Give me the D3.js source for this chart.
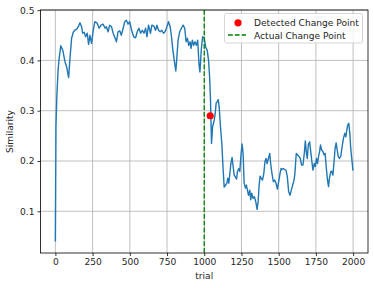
<!DOCTYPE html>
<html><head><meta charset="utf-8">
<script src="https://cdn.jsdelivr.net/npm/d3@7"></script>
<style>body{margin:0;background:#fff}svg{display:block}text{font-family:"DejaVu Sans",sans-serif;fill:#262626}</style>
</head><body><svg id="c" width="374" height="288"></svg>
<script>
const trials = [0,4,10,18,24,36,49,65,76,89,98,109,120,131,143,154,165,176,183,194,203,214,223,232,243,254,265,281,294,307,321,334,343,354,365,377,388,399,410,421,432,443,455,466,477,488,499,512,526,539,550,561,573,584,595,606,615,626,639,648,662,673,682,693,704,715,726,737,749,760,771,780,789,800,809,815,824,835,847,858,869,878,887,896,905,911,920,929,938,947,956,965,971,980,989,1000,1009,1020,1029,1036,1042,1049,1056,1065,1074,1080,1087,1094,1100,1109,1118,1127,1134,1143,1152,1158,1165,1172,1179,1187,1194,1201,1210,1217,1223,1232,1239,1246,1254,1261,1268,1277,1283,1290,1297,1306,1312,1319,1328,1337,1346,1355,1362,1368,1375,1382,1391,1400,1408,1415,1422,1431,1440,1446,1455,1464,1473,1482,1491,1500,1509,1516,1522,1531,1540,1549,1558,1567,1576,1585,1594,1603,1609,1618,1627,1636,1645,1654,1663,1672,1679,1685,1692,1699,1708,1714,1723,1730,1739,1746,1754,1761,1768,1775,1781,1788,1797,1806,1812,1819,1828,1835,1841,1850,1857,1864,1873,1879,1886,1893,1900,1908,1917,1926,1935,1944,1951,1958,1964,1971,1978,1984,1991,1999];
const similarity = [0.040,0.27,0.33,0.38,0.400,0.429,0.421,0.397,0.387,0.366,0.404,0.444,0.456,0.460,0.462,0.467,0.475,0.467,0.454,0.456,0.447,0.454,0.432,0.450,0.434,0.459,0.477,0.474,0.464,0.470,0.472,0.464,0.467,0.457,0.470,0.467,0.454,0.446,0.437,0.457,0.459,0.450,0.464,0.477,0.480,0.472,0.477,0.460,0.447,0.445,0.457,0.464,0.454,0.460,0.454,0.464,0.447,0.470,0.454,0.470,0.468,0.460,0.470,0.460,0.457,0.460,0.454,0.457,0.467,0.477,0.467,0.447,0.421,0.397,0.379,0.401,0.440,0.457,0.464,0.470,0.464,0.437,0.444,0.430,0.437,0.424,0.440,0.430,0.437,0.430,0.440,0.391,0.377,0.421,0.447,0.445,0.427,0.420,0.400,0.368,0.321,0.235,0.268,0.278,0.295,0.315,0.318,0.322,0.308,0.268,0.235,0.182,0.148,0.152,0.156,0.166,0.156,0.175,0.195,0.207,0.189,0.172,0.168,0.164,0.179,0.185,0.179,0.209,0.234,0.215,0.156,0.146,0.152,0.142,0.132,0.142,0.123,0.136,0.126,0.129,0.119,0.104,0.119,0.149,0.170,0.166,0.162,0.175,0.199,0.205,0.195,0.205,0.215,0.195,0.175,0.159,0.162,0.156,0.144,0.159,0.175,0.185,0.183,0.185,0.183,0.182,0.169,0.139,0.132,0.142,0.152,0.162,0.175,0.215,0.212,0.209,0.205,0.192,0.192,0.215,0.240,0.219,0.205,0.232,0.238,0.222,0.199,0.182,0.195,0.189,0.205,0.195,0.209,0.219,0.232,0.222,0.219,0.212,0.215,0.189,0.162,0.149,0.166,0.179,0.179,0.172,0.202,0.225,0.236,0.222,0.209,0.205,0.209,0.228,0.245,0.255,0.248,0.262,0.272,0.275,0.255,0.225,0.205,0.181];
const xTicks = [0,250,500,750,1000,1250,1500,1750,2000];
const yTicks = [0.1,0.2,0.3,0.4,0.5];
const actualChange = [1000];
const detectedTrial = [1040];
const detectedValue = [0.290];
const legendLabels = ["Detected Change Point","Actual Change Point"];

const FS = "9.1px";
const svg = d3.select("#c");
const L=40.5, R=368, T=10, B=253;
const x = d3.scaleLinear().domain([-100,2100]).range([L,R]);
const y = d3.scaleLinear().domain([0.0171,0.5002]).range([B,T]);

// grid
const g = svg.append("g");
g.selectAll(".gx").data(xTicks).enter().append("line")
 .attr("x1",d=>x(d)).attr("x2",d=>x(d)).attr("y1",T).attr("y2",B)
 .attr("stroke","#b0b0b0").attr("stroke-width",0.8);
g.selectAll(".gy").data(yTicks).enter().append("line")
 .attr("y1",d=>y(d)).attr("y2",d=>y(d)).attr("x1",L).attr("x2",R)
 .attr("stroke","#b0b0b0").attr("stroke-width",0.8);

// line
const pts = trials.map((t,i)=>[t,similarity[i]]);
svg.append("path").datum(pts)
 .attr("d",d3.line().x(d=>x(d[0])).y(d=>y(d[1])))
 .attr("fill","none").attr("stroke","#1f77b4").attr("stroke-width",1.4).attr("stroke-linejoin","round");

// actual change
svg.selectAll(".ac").data(actualChange).enter().append("line")
 .attr("x1",d=>x(d)).attr("x2",d=>x(d)).attr("y1",T).attr("y2",B)
 .attr("stroke","#008000").attr("stroke-width",1.3).attr("stroke-dasharray","4.8,2");

// detected
svg.selectAll(".dc").data(detectedTrial).enter().append("circle")
 .attr("cx",d=>x(d)).attr("cy",(d,i)=>y(detectedValue[i])).attr("r",3.6).attr("fill","#ff0000");

// axes
const xa = svg.append("g").attr("transform",`translate(0,${B})`)
 .call(d3.axisBottom(x).tickValues(xTicks).tickSize(3).tickPadding(3).tickFormat(d3.format("d")));
const ya = svg.append("g").attr("transform",`translate(${L},0)`)
 .call(d3.axisLeft(y).tickValues(yTicks).tickSize(3).tickPadding(3).tickFormat(d3.format(".1f")));
[xa,ya].forEach(a=>{a.select(".domain").remove();a.selectAll("line").attr("stroke","#000").attr("stroke-width",0.8);
 a.selectAll("text").attr("font-size",FS).attr("fill","#262626").style("font-family","DejaVu Sans");});

// frame
svg.append("rect").attr("x",L).attr("y",T).attr("width",R-L).attr("height",B-T)
 .attr("fill","none").attr("stroke","#000").attr("stroke-width",0.8);

svg.append("text").attr("x",(L+R)/2).attr("y",279).attr("text-anchor","middle").attr("font-size",FS).text("trial");
svg.append("text").attr("transform",`translate(13,${(T+B)/2}) rotate(-90)`).attr("text-anchor","middle").attr("font-size",FS).text("Similarity");

// legend
const lg = svg.append("g");
lg.append("rect").attr("x",224.5).attr("y",13.5).attr("width",138).attr("height",29.5).attr("rx",2)
 .attr("fill","#fff").attr("fill-opacity",0.8).attr("stroke","#cccccc").attr("stroke-width",0.8);
lg.append("circle").attr("cx",238).attr("cy",22.8).attr("r",3.6).attr("fill","#ff0000");
lg.append("line").attr("x1",228).attr("x2",246).attr("y1",35).attr("y2",35)
 .attr("stroke","#008000").attr("stroke-width",1.3).attr("stroke-dasharray","4.8,2");
lg.selectAll(".lt").data(legendLabels).enter().append("text")
 .attr("x",254).attr("y",(d,i)=>26+i*12.6).attr("font-size",FS).text(d=>d);
</script></body></html>
